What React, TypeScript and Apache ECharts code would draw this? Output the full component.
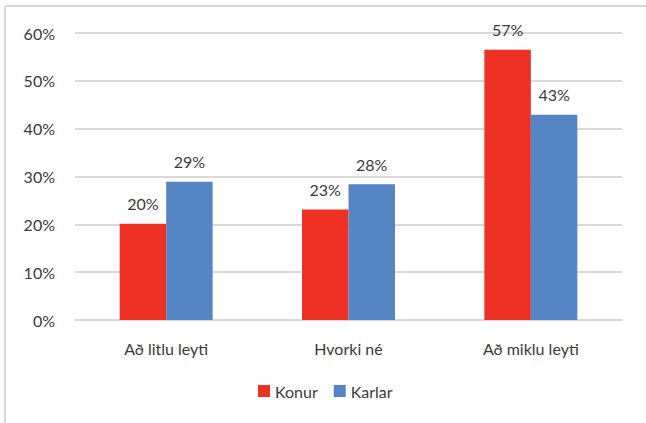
import React, { useEffect, useRef } from "react";
import * as echarts from "echarts";

const categories = ["Að litlu leyti", "Hvorki né", "Að miklu leyti"];
const konur = [20.1, 23.1, 56.5];
const karlar = [28.9, 28.4, 42.9];
const yTicks = [0, 10, 20, 30, 40, 50, 60];

const FONT = "Lato, 'Noto Sans', sans-serif";
const TEXT = "#3a3a3a";
const FS = 16;

export default function App() {
  const ref = useRef<HTMLDivElement>(null);
  useEffect(() => {
    document.body.style.margin = "0";
    const chart = echarts.init(ref.current!, null, { renderer: "svg" });
    const label = {
      show: true,
      position: "top",
      distance: 12,
      fontFamily: FONT,
      fontSize: FS,
      color: TEXT,
      formatter: (p: any) => `${Math.round(p.value)}%`,
    };
    chart.setOption({
      animation: false,
      backgroundColor: "#ffffff",
      textStyle: { fontFamily: FONT },
      graphic: [
        { type: "line", shape: { x1: 5, y1: 6, x2: 646, y2: 6 }, style: { stroke: "#d9d9d9", lineWidth: 2 } },
        { type: "line", shape: { x1: 5, y1: 6, x2: 5, y2: 423 }, style: { stroke: "#d9d9d9", lineWidth: 2 } },
      ],
      grid: { left: 75, right: 24, top: 33, bottom: 103 },
      legend: {
        data: ["Konur", "Karlar"],
        top: 378,
        left: 253,
        itemWidth: 12,
        itemHeight: 12,
        itemGap: 16,
        icon: "rect",
        textStyle: { fontFamily: FONT, fontSize: FS, color: TEXT },
      },
      xAxis: {
        type: "category",
        data: categories,
        axisLine: { show: true, lineStyle: { color: "#d9d9d9", width: 2 } },
        axisTick: { show: false },
        axisLabel: { fontFamily: FONT, fontSize: FS, color: TEXT, margin: 20 },
      },
      yAxis: {
        type: "value",
        min: yTicks[0],
        max: yTicks[yTicks.length - 1],
        interval: 10,
        axisLine: { show: false },
        axisTick: { show: false },
        splitLine: { lineStyle: { color: "#d9d9d9", width: 2 } },
        axisLabel: { fontFamily: FONT, fontSize: FS, color: TEXT, margin: 20, formatter: (v: number) => `${v}%` },
      },
      series: [
        {
          name: "Konur",
          type: "bar",
          data: konur,
          barWidth: "25.5%",
          barGap: "0%",
          itemStyle: { color: "#EE3124" },
          label,
        },
        {
          name: "Karlar",
          type: "bar",
          data: karlar,
          barWidth: "25.5%",
          barGap: "0%",
          itemStyle: { color: "#5585C5" },
          label,
        },
      ],
    });
    return () => chart.dispose();
  }, []);
  return <div ref={ref} style={{ position: "absolute", left: 0, top: 0, width: 646, height: 423 }} />;
}
